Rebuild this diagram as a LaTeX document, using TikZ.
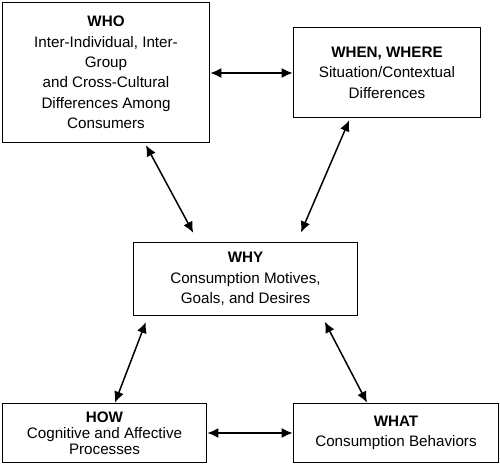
\documentclass[tikz,border=0pt]{standalone}
\usepackage{fontspec}
\setmainfont{Liberation Sans}
\usetikzlibrary{arrows.meta}
\tikzset{
  box/.style={draw, line width=1.8pt, align=center, inner sep=0pt,
    font=\fontsize{15.2}{20.4}\selectfont},
  link/.style={line width=1.5pt, {Latex[length=11pt,width=10pt]}-{Latex[length=11pt,width=10pt]}}
}
\begin{document}
\begin{tikzpicture}[x=1pt,y=-1pt]
\useasboundingbox (0,0) rectangle (500,465);
\node[box, minimum width=207pt, minimum height=140pt] (who) at (106,72.5)
  {\textbf{WHO}\\Inter-Individual, Inter-\\Group\\and Cross-Cultural\\Differences Among\\Consumers};
\node[box, minimum width=187pt, minimum height=90pt] (when) at (387,72.5)
  {\textbf{WHEN, WHERE}\\Situation/Contextual\\Differences};
\node[box, minimum width=224pt, minimum height=73pt] (why) at (245.5,279)
  {\textbf{WHY}\\Consumption Motives,\\Goals, and Desires};
\node[box, minimum width=204pt, minimum height=59pt, font=\fontsize{15.2}{16}\selectfont] (how) at (104.5,433)
  {\textbf{HOW}\\Cognitive and Affective\\Processes};
\node[box, minimum width=205pt, minimum height=59pt] (what) at (396,433)
  {\textbf{WHAT}\\Consumption Behaviors};
\draw[link] ([yshift=-0.5pt]who.east) -- ([yshift=-0.5pt]when.west);
\draw[link, shorten <=2pt, shorten >=10pt] ([xshift=39pt]who.south) -- ([xshift=-47.5pt]why.north);
\draw[link, shorten <=2pt, shorten >=10pt] ([xshift=-37pt]when.south) -- ([xshift=51.5pt]why.north);
\draw[link, shorten <=6pt] ([xshift=-97.5pt]why.south) -- ([xshift=10.5pt]how.north);
\draw[link, shorten <=6pt] ([xshift=76.5pt]why.south) -- ([xshift=-29pt]what.north);
\draw[link] (how.east) -- (what.west);
\end{tikzpicture}
\end{document}
